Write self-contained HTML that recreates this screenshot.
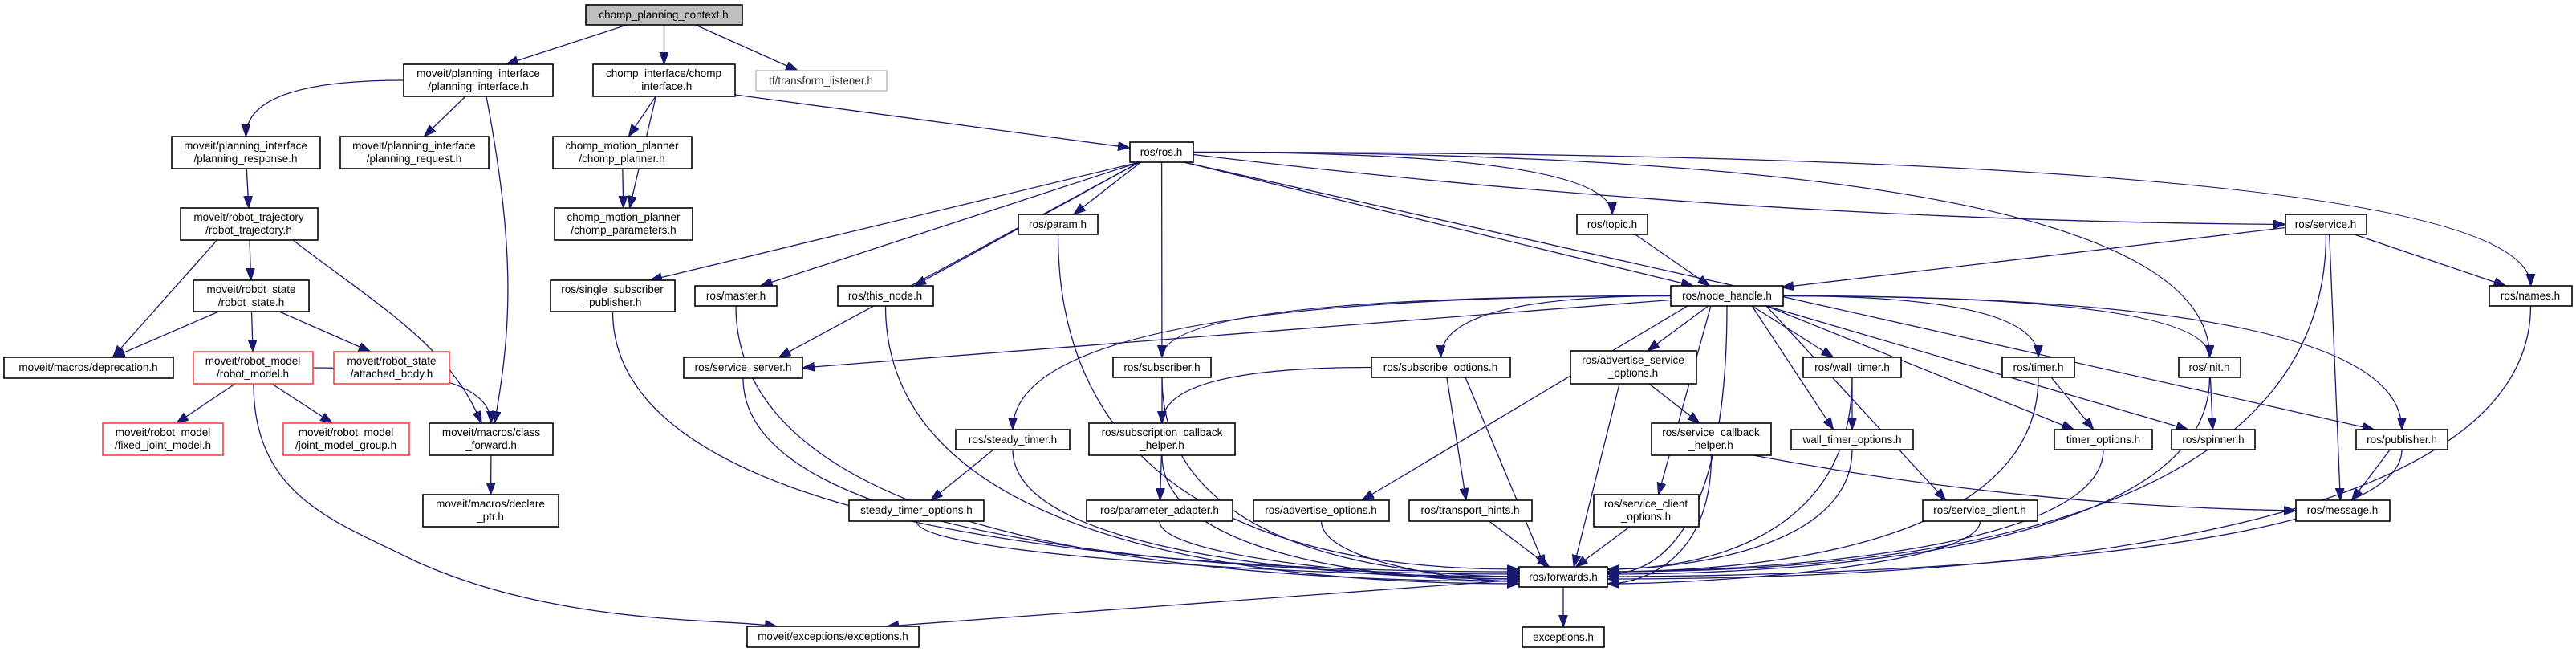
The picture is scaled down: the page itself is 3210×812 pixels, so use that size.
<!DOCTYPE html>
<html><head><meta charset="utf-8"><style>
html,body{margin:0;padding:0;background:#fff;}
svg{display:block}
text{font-family:"Liberation Sans",sans-serif;font-size:13.5px;fill:#000;text-anchor:middle}
rect{fill:#fff;stroke:#000;stroke-width:1.6}
rect.red{stroke:#ff4040}
rect.gray{stroke:#bfbfbf}
rect.root{fill:#bfbfbf}
path.e{fill:none;stroke:#191970;stroke-width:1.3}
</style></head><body>
<svg id="s" width="3210" height="812" viewBox="0 0 3210 812" xmlns="http://www.w3.org/2000/svg">
<defs><marker id="a" markerUnits="userSpaceOnUse" markerWidth="18" markerHeight="12" refX="15" refY="5.5" orient="auto"><path d="M0,0 L15,5.5 L0,11 z" fill="#191970" stroke="#191970"/></marker></defs>
<g id="edges"></g>
<g id="nodes">
<rect class="root" x="730" y="6" width="195" height="25"/><text x="827" y="23">chomp_planning_context.h</text>
<rect x="503" y="80" width="186" height="40"/><text x="596" y="96">moveit/planning_interface</text><text x="596" y="112">/planning_interface.h</text>
<rect x="739" y="80" width="177" height="40"/><text x="827" y="96">chomp_interface/chomp</text><text x="827" y="112">_interface.h</text>
<rect class="gray" x="942" y="88" width="163" height="25"/><text x="1023" y="105" style="fill:#333">tf/transform_listener.h</text>
<rect x="214" y="170" width="185" height="40"/><text x="306" y="186">moveit/planning_interface</text><text x="306" y="202">/planning_response.h</text>
<rect x="424" y="170" width="185" height="40"/><text x="516" y="186">moveit/planning_interface</text><text x="516" y="202">/planning_request.h</text>
<rect x="689" y="170" width="173" height="40"/><text x="775" y="186">chomp_motion_planner</text><text x="775" y="202">/chomp_planner.h</text>
<rect x="691" y="259" width="172" height="40"/><text x="777" y="275">chomp_motion_planner</text><text x="777" y="291">/chomp_parameters.h</text>
<rect x="225" y="259" width="171" height="40"/><text x="310" y="275">moveit/robot_trajectory</text><text x="310" y="291">/robot_trajectory.h</text>
<rect x="241" y="349" width="144" height="39"/><text x="313" y="365">moveit/robot_state</text><text x="313" y="381">/robot_state.h</text>
<rect x="686" y="349" width="155" height="39"/><text x="763" y="365">ros/single_subscriber</text><text x="763" y="381">_publisher.h</text>
<rect x="866" y="356" width="102" height="25"/><text x="917" y="373">ros/master.h</text>
<rect x="1044" y="356" width="119" height="25"/><text x="1103" y="373">ros/this_node.h</text>
<rect x="5" y="445" width="211" height="26"/><text x="110" y="462">moveit/macros/deprecation.h</text>
<rect class="red" x="241" y="438" width="149" height="40"/><text x="315" y="454">moveit/robot_model</text><text x="315" y="470">/robot_model.h</text>
<rect class="red" x="416" y="438" width="144" height="40"/><text x="488" y="454">moveit/robot_state</text><text x="488" y="470">/attached_body.h</text>
<rect x="852" y="445" width="148" height="26"/><text x="926" y="462">ros/service_server.h</text>
<rect class="red" x="128" y="527" width="150" height="40"/><text x="203" y="543">moveit/robot_model</text><text x="203" y="559">/fixed_joint_model.h</text>
<rect class="red" x="353" y="527" width="157" height="40"/><text x="431" y="543">moveit/robot_model</text><text x="431" y="559">/joint_model_group.h</text>
<rect x="535" y="527" width="154" height="40"/><text x="612" y="543">moveit/macros/class</text><text x="612" y="559">_forward.h</text>
<rect x="527" y="616" width="169" height="40"/><text x="611" y="632">moveit/macros/declare</text><text x="611" y="648">_ptr.h</text>
<rect x="931" y="780" width="214" height="26"/><text x="1038" y="797">moveit/exceptions/exceptions.h</text>
<rect x="1408" y="177" width="79" height="25"/><text x="1447" y="194">ros/ros.h</text>
<rect x="1269" y="267" width="99" height="25"/><text x="1318" y="284">ros/param.h</text>
<rect x="1965" y="267" width="88" height="25"/><text x="2009" y="284">ros/topic.h</text>
<rect x="2082" y="356" width="140" height="25"/><text x="2152" y="373">ros/node_handle.h</text>
<rect x="1387" y="445" width="122" height="25"/><text x="1448" y="462">ros/subscriber.h</text>
<rect x="1709" y="445" width="173" height="25"/><text x="1795" y="462">ros/subscribe_options.h</text>
<rect x="1957" y="437" width="157" height="41"/><text x="2035" y="453">ros/advertise_service</text><text x="2035" y="469">_options.h</text>
<rect x="1191" y="535" width="142" height="25"/><text x="1262" y="552">ros/steady_timer.h</text>
<rect x="1357" y="527" width="182" height="40"/><text x="1448" y="543">ros/subscription_callback</text><text x="1448" y="559">_helper.h</text>
<rect x="2058" y="527" width="149" height="40"/><text x="2132" y="543">ros/service_callback</text><text x="2132" y="559">_helper.h</text>
<rect x="2848" y="267" width="101" height="25"/><text x="2898" y="284">ros/service.h</text>
<rect x="3102" y="356" width="103" height="25"/><text x="3153" y="373">ros/names.h</text>
<rect x="2247" y="445" width="122" height="25"/><text x="2308" y="462">ros/wall_timer.h</text>
<rect x="2495" y="445" width="90" height="25"/><text x="2540" y="462">ros/timer.h</text>
<rect x="2715" y="445" width="77" height="25"/><text x="2753" y="462">ros/init.h</text>
<rect x="2232" y="535" width="152" height="25"/><text x="2308" y="552">wall_timer_options.h</text>
<rect x="2560" y="535" width="122" height="25"/><text x="2621" y="552">timer_options.h</text>
<rect x="2706" y="535" width="104" height="25"/><text x="2758" y="552">ros/spinner.h</text>
<rect x="2936" y="535" width="114" height="25"/><text x="2993" y="552">ros/publisher.h</text>
<rect x="1058" y="623" width="168" height="26"/><text x="1142" y="640">steady_timer_options.h</text>
<rect x="1354" y="623" width="182" height="26"/><text x="1445" y="640">ros/parameter_adapter.h</text>
<rect x="1562" y="623" width="169" height="26"/><text x="1646" y="640">ros/advertise_options.h</text>
<rect x="1756" y="623" width="153" height="26"/><text x="1832" y="640">ros/transport_hints.h</text>
<rect x="1986" y="616" width="131" height="40"/><text x="2051" y="632">ros/service_client</text><text x="2051" y="648">_options.h</text>
<rect x="2396" y="623" width="143" height="26"/><text x="2467" y="640">ros/service_client.h</text>
<rect x="2861" y="623" width="117" height="26"/><text x="2919" y="640">ros/message.h</text>
<rect x="1893" y="706" width="110" height="25"/><text x="1948" y="723">ros/forwards.h</text>
<rect x="1897" y="781" width="102" height="25"/><text x="1948" y="798">exceptions.h</text>
</g>
</svg>
<script>
var N={root:[730,6,925,31],pi:[503,80,689,120],ci:[739,80,916,120],tf:[942,88,1105,113],pres:[214,170,399,210],preq:[424,170,609,210],cp:[689,170,862,210],cpar:[691,259,863,299],rt:[225,259,396,299],rs:[241,349,385,388],ssp:[686,349,841,388],master:[866,356,968,381],thisn:[1044,356,1163,381],dep:[5,445,216,471],rm:[241,438,390,478],ab:[416,438,560,478],ss:[852,445,1000,471],fjm:[128,527,278,567],jmg:[353,527,510,567],cf:[535,527,689,567],dp:[527,616,696,656],mex:[931,780,1145,806],ros:[1408,177,1487,202],param:[1269,267,1368,292],topic:[1965,267,2053,292],nh:[2082,356,2222,381],sub:[1387,445,1509,470],so:[1709,445,1882,470],aso:[1957,437,2114,478],st:[1191,535,1333,560],sch:[1357,527,1539,567],sch2:[2058,527,2207,567],srv:[2848,267,2949,292],names:[3102,356,3205,381],wt:[2247,445,2369,470],timer:[2495,445,2585,470],init:[2715,445,2792,470],wto:[2232,535,2384,560],to:[2560,535,2682,560],spin:[2706,535,2810,560],pub:[2936,535,3050,560],sto:[1058,623,1226,649],pa:[1354,623,1536,649],ao:[1562,623,1731,649],th:[1756,623,1909,649],sco:[1986,616,2117,656],sc:[2396,623,2539,649],msg:[2861,623,2978,649],fwd:[1893,706,2003,731],exc:[1897,781,1999,806]};
var E=[["root","pi"],["root","ci"],["root","tf"],["pi","pres"],["pi","preq"],["pi","cf"],["ci","cp"],["ci","cpar"],["ci","ros"],["cp","cpar"],["pres","rt"],["rt","dep"],["rt","rs"],["rt","cf"],["rs","dep"],["rs","rm"],["rs","ab"],["rm","fjm"],["rm","jmg"],["rm","cf"],["rm","mex"],["cf","dp"],
["ros","ssp"],["ros","master"],["ros","ss"],["ros","thisn"],["ros","param"],["ros","sub"],["ros","nh"],["ros","topic"],["ros","srv"],["ros","names"],["ros","pub"],["ros","init"],
["topic","nh"],["srv","nh"],["srv","names"],["srv","msg"],["srv","fwd"],
["nh","ss"],["nh","sub"],["nh","st"],["nh","so"],["nh","aso"],["nh","sco"],["nh","fwd"],["nh","wt"],["nh","wto"],["nh","timer"],["nh","to"],["nh","init"],["nh","spin"],["nh","sc"],["nh","pub"],["nh","ao"],
["sub","sch"],["sub","fwd"],["so","sch"],["so","th"],["so","fwd"],["aso","sch2"],["aso","fwd"],["st","sto"],["st","fwd"],["sch","pa"],["sch","fwd"],["sch2","msg"],["sch2","fwd"],["wt","wto"],["wt","fwd"],["timer","to"],["timer","fwd"],["init","spin"],["init","fwd"],["pub","msg"],["pub","fwd"],["names","fwd"],["master","fwd"],["thisn","fwd"],["param","fwd"],["ssp","fwd"],["ss","fwd"],["sto","fwd"],["pa","fwd"],["ao","fwd"],["th","fwd"],["sco","fwd"],["sc","fwd"],["wto","fwd"],["to","fwd"],["fwd","mex"],["fwd","exc"]];
var SPECIAL={"ros>srv":"L","nh>ss":"R","srv>nh":"RT","sch2>msg":"L"};
var FIXED={"ci>ros":"M916,118 L1408,184","rt>cf":"M365,299 C470,380 560,430 600,527","rm>mex":"M316,478 C316,620 420,650 520,700 C700,780 900,770 968,780","pi>cf":"M606,120 C640,300 640,400 616,527"};
function cl(v,m){return Math.max(-m,Math.min(m,v));}
var g=document.getElementById("edges"),ns="http://www.w3.org/2000/svg",cnt=0;
E.forEach(function(e){var s=N[e[0]],t=N[e[1]],key=e[0]+">"+e[1];
var scx=(s[0]+s[2])/2,tcx=(t[0]+t[2])/2,sw=s[2]-s[0],tw=t[2]-t[0];
var sx=scx+cl((tcx-scx)*0.2,sw*0.35),sy=s[3],tx=tcx+cl((scx-tcx)*0.15,tw*0.3),ty=t[1],d;
var sp=SPECIAL[key];
if(FIXED[key]){d=FIXED[key];}
else if(sp=="L"){tx=t[0];ty=(t[1]+t[3])/2;sx=e[0]=="ros"?s[2]:sx;sy=e[0]=="ros"?(s[1]+s[3])/2+3:sy;
 d="M"+sx+","+sy+" Q"+(sx+tx)/2+","+(ty-5)+" "+tx+","+ty;}
else if(sp=="R"){sx=s[0];sy=(s[1]+s[3])/2+5;tx=t[2];ty=(t[1]+t[3])/2;d="M"+sx+","+sy+" L"+tx+","+ty;}
else if(sp=="RT"){sx=s[0];sy=(s[1]+s[3])/2+4;tx=t[2]-2;ty=t[1]+2;d="M"+sx+","+sy+" L"+tx+","+ty;}
else if(t[1]<=s[1]+5){
 if(tcx<scx){sx=s[0];tx=t[2];}else{sx=s[2];tx=t[0];}sy=(s[1]+s[3])/2;ty=(t[1]+t[3])/2;
 d="M"+sx+","+sy+" L"+tx+","+ty;
}else if(e[1]=="fwd"&&Math.abs(scx-tcx)>170){
 cnt++;var yy=ty+3+(cnt%7)*3;
 tx=scx<tcx?t[0]:t[2];sx=scx;
 d="M"+sx+","+sy+" C"+sx+","+(yy-25)+" "+(sx*0.3+tx*0.7)+","+yy+" "+tx+","+yy;
}else if(e[0]=="fwd"&&e[1]=="mex"){
 d="M1893,722 L"+(t[2]-40)+","+t[1];
}else if(Math.abs(tcx-scx)>5*Math.abs(ty-sy)){
 sx=tcx>scx?s[2]:s[0];sy=(s[1]+s[3])/2;tx=tcx;
 d="M"+sx+","+sy+" Q"+tx+","+sy+" "+tx+","+ty;
}else{
 d="M"+sx+","+sy+" L"+tx+","+ty;
}
var p=document.createElementNS(ns,"path");p.setAttribute("d",d);p.setAttribute("class","e");p.setAttribute("marker-end","url(#a)");g.appendChild(p);});
</script>
</body></html>
